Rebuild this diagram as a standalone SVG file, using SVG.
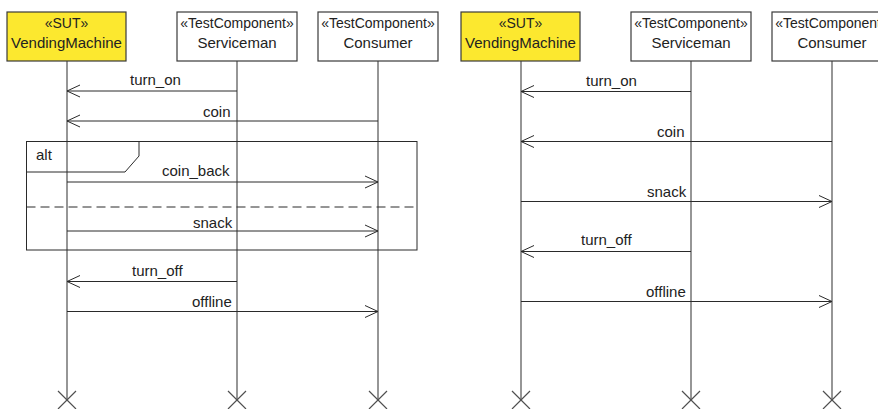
<svg xmlns="http://www.w3.org/2000/svg" width="878" height="409" viewBox="0 0 878 409">
<style>
.bg{fill:#ffffff}
.box{fill:#ffffff;stroke:#3a3a3a;stroke-width:1.2}
.sut{fill:#fce82f;stroke:#3a3a3a;stroke-width:1.2}
.life{stroke:#505050;stroke-width:1.2;fill:none}
.msg{stroke:#2a2a2a;stroke-width:1;fill:none}
.frame{stroke:#2a2a2a;stroke-width:1;fill:none}
.dash{stroke:#2a2a2a;stroke-width:1;fill:none;stroke-dasharray:9,5}
.st{font-family:"Liberation Sans",Arial,sans-serif;font-size:14px;fill:#222;text-anchor:middle}
.nm{font-family:"Liberation Sans",Arial,sans-serif;font-size:15px;fill:#222;text-anchor:middle}
.lb{font-family:"Liberation Sans",Arial,sans-serif;font-size:15px;fill:#222}
</style>
<defs>
<marker id="ah" viewBox="0 0 14 14" refX="13" refY="7" markerWidth="14" markerHeight="14" markerUnits="userSpaceOnUse" orient="auto">
<path d="M0,1 L13,7 L0,13" fill="none" stroke="#2a2a2a" stroke-width="1"/>
</marker>
</defs>
<rect class="bg" x="0" y="0" width="878" height="409"/>

<g id="lifelines" class="life">
<line x1="67" y1="61" x2="67" y2="400"/>
<line x1="237" y1="61" x2="237" y2="400"/>
<line x1="378" y1="61" x2="378" y2="400"/>
<line x1="521" y1="61" x2="521" y2="400"/>
<line x1="691" y1="61" x2="691" y2="400"/>
<line x1="832" y1="61" x2="832" y2="400"/>
<path d="M58,391 L76,409 M76,391 L58,409"/>
<path d="M228,391 L246,409 M246,391 L228,409"/>
<path d="M369,391 L387,409 M387,391 L369,409"/>
<path d="M512,391 L530,409 M530,391 L512,409"/>
<path d="M682,391 L700,409 M700,391 L682,409"/>
<path d="M823,391 L841,409 M841,391 L823,409"/>
</g>

<g id="L-VendingMachine">
<rect class="sut" x="7" y="12" width="119" height="49"/>
<text class="st" x="66.5" y="28">«SUT»</text>
<text class="nm" x="66.5" y="48">VendingMachine</text>
</g>
<g id="L-Serviceman">
<rect class="box" x="177" y="12" width="120" height="49"/>
<text class="st" x="237" y="28">«TestComponent»</text>
<text class="nm" x="237" y="48">Serviceman</text>
</g>
<g id="L-Consumer">
<rect class="box" x="318" y="12" width="120" height="49"/>
<text class="st" x="378" y="28">«TestComponent»</text>
<text class="nm" x="378" y="48">Consumer</text>
</g>

<g id="R-VendingMachine">
<rect class="sut" x="461" y="12" width="119" height="49"/>
<text class="st" x="520.5" y="28">«SUT»</text>
<text class="nm" x="520.5" y="48">VendingMachine</text>
</g>
<g id="R-Serviceman">
<rect class="box" x="631" y="12" width="120" height="49"/>
<text class="st" x="691" y="28">«TestComponent»</text>
<text class="nm" x="691" y="48">Serviceman</text>
</g>
<g id="R-Consumer">
<rect class="box" x="772" y="12" width="120" height="49"/>
<text class="st" x="832" y="28">«TestComponent»</text>
<text class="nm" x="832" y="48">Consumer</text>
</g>

<g id="alt-frame">
<rect class="frame" x="26.5" y="141.5" width="390.5" height="108.5"/>
<path class="frame" d="M26.5,172 L125,172 L139,156 L139,141.5"/>
<text class="lb" x="36" y="160">alt</text>
<line class="dash" x1="26.5" y1="207" x2="417" y2="207"/>
</g>

<g id="connectors">
<line class="msg" x1="237" y1="91" x2="67" y2="91" marker-end="url(#ah)"/>
<line class="msg" x1="378" y1="121" x2="67" y2="121" marker-end="url(#ah)"/>
<line class="msg" x1="67" y1="182" x2="378" y2="182" marker-end="url(#ah)"/>
<line class="msg" x1="67" y1="231" x2="378" y2="231" marker-end="url(#ah)"/>
<line class="msg" x1="237" y1="281.5" x2="67" y2="281.5" marker-end="url(#ah)"/>
<line class="msg" x1="67" y1="311.5" x2="378" y2="311.5" marker-end="url(#ah)"/>

<line class="msg" x1="691" y1="91.5" x2="521" y2="91.5" marker-end="url(#ah)"/>
<line class="msg" x1="832" y1="141.5" x2="521" y2="141.5" marker-end="url(#ah)"/>
<line class="msg" x1="521" y1="201.5" x2="832" y2="201.5" marker-end="url(#ah)"/>
<line class="msg" x1="691" y1="251.5" x2="521" y2="251.5" marker-end="url(#ah)"/>
<line class="msg" x1="521" y1="301.5" x2="832" y2="301.5" marker-end="url(#ah)"/>

<text class="lb" x="130" y="85">turn_on</text>
<text class="lb" x="203" y="117">coin</text>
<text class="lb" x="162" y="176">coin_back</text>
<text class="lb" x="193" y="228">snack</text>
<text class="lb" x="132" y="276">turn_off</text>
<text class="lb" x="192" y="307">offline</text>

<text class="lb" x="586" y="86">turn_on</text>
<text class="lb" x="657" y="137">coin</text>
<text class="lb" x="647" y="197">snack</text>
<text class="lb" x="581" y="245">turn_off</text>
<text class="lb" x="646" y="297">offline</text>
</g>
</svg>
